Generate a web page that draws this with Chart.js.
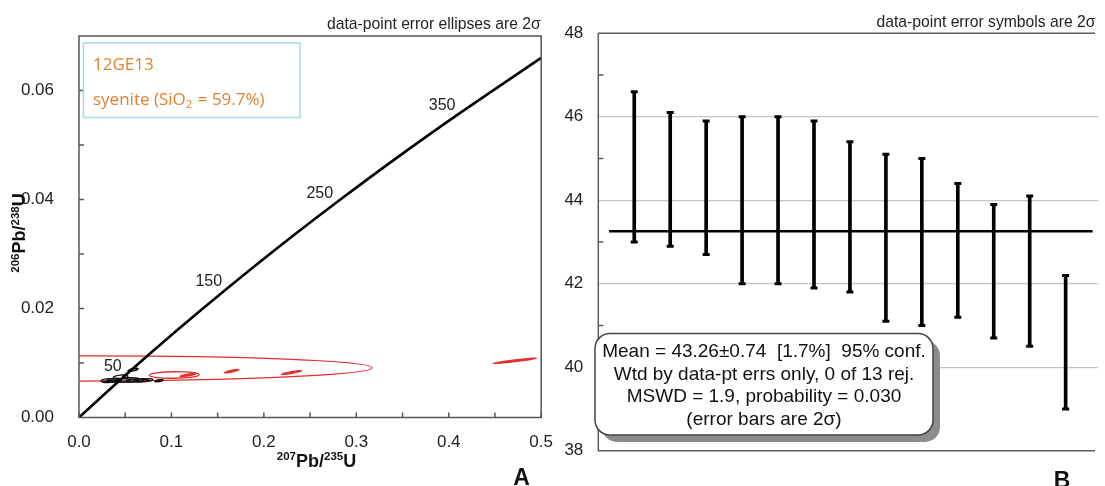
<!DOCTYPE html>
<html>
<head>
<meta charset="utf-8">
<script src="https://cdn.jsdelivr.net/npm/chart.js@4.4.1/dist/chart.umd.min.js"></script>
<style>
  html, body { margin: 0; padding: 0; background: #fff; overflow: hidden; }
  #wrapA { position: absolute; left: 0; top: 0; width: 560px; height: 486px; }
  #wrapB { position: absolute; left: 560px; top: 0; width: 545px; height: 486px; }
</style>
</head>
<body>
<div id="wrapA"><canvas id="chartA"></canvas></div>
<div id="wrapB"><canvas id="chartB"></canvas></div>
<script>
// ---- panel A: concordia diagram ----
const concAges = [0, 50, 100, 150, 200, 250, 300, 350, 400, 412];
const concX = [0, 0.0505, 0.1035, 0.1592, 0.2177, 0.2792, 0.3437, 0.4116, 0.4828, 0.5];
const concY = [0, 0.00779, 0.01563, 0.02354, 0.03151, 0.03954, 0.04764, 0.0558, 0.06402, 0.0660];
const ageLabels = [50, 150, 250, 350];

// error ellipses (centre, 2 sigma half widths, correlation)
const redCx = [0.0, 0.103, 0.118, 0.165, 0.230, 0.4715];
const redCy = [0.0090, 0.0078, 0.0078, 0.0085, 0.00825, 0.0104];
const redSx = [0.317, 0.027, 0.009, 0.008, 0.011, 0.0235];
const redSy = [0.00232, 0.0006, 0.0003, 0.0003, 0.00035, 0.0005];
const redRho = [0.05, 0.1, 0.9, 0.95, 0.95, 0.97];

const blkCx = [0.0585, 0.045, 0.030, 0.038, 0.046, 0.053, 0.060, 0.067, 0.074, 0.0865, 0.034];
const blkCy = [0.00875, 0.00745, 0.0068, 0.0069, 0.0068, 0.0069, 0.0068, 0.0068, 0.00685, 0.00675, 0.0066];
const blkSx = [0.0055, 0.008, 0.006, 0.008, 0.010, 0.012, 0.009, 0.008, 0.006, 0.0045, 0.008];
const blkSy = [0.0003, 0.00035, 0.0003, 0.0003, 0.0003, 0.0004, 0.0003, 0.0003, 0.00025, 0.00015, 0.0002];
const blkRho = [0.7, 0.3, 0.3, 0.4, 0.3, 0.3, 0.4, 0.3, 0.5, 0.9, 0.6];

const xTicksA = [0, 0.1, 0.2, 0.3, 0.4, 0.5];
const yTicksA = [0, 0.02, 0.04, 0.06];
const xMinorA = [0, 0.05, 0.1, 0.15, 0.2, 0.25, 0.3, 0.35, 0.4, 0.45, 0.5];
const yMinorA = [0.01, 0.02, 0.03, 0.04, 0.05, 0.06];

// ---- panel B: weighted mean ----
const spotNo = [1, 2, 3, 4, 5, 6, 7, 8, 9, 10, 11, 12, 13];
const barHigh = [46.6, 46.1, 45.9, 46.0, 46.0, 45.9, 45.4, 45.1, 45.0, 44.4, 43.9, 44.1, 42.2];
const barLow = [43.0, 42.9, 42.7, 42.0, 42.0, 41.9, 41.8, 41.1, 41.0, 41.2, 40.7, 40.5, 39.0];
const meanAge = 43.26;
const meanSpan = [0.3, 13.75];
const yTicksB = [38, 40, 42, 44, 46, 48];
const yMinorB = [39, 41, 43, 45, 47];
const statLines = [
  'Mean = 43.26\u00b10.74  [1.7%]  95% conf.',
  'Wtd by data-pt errs only, 0 of 13 rej.',
  'MSWD = 1.9, probability = 0.030',
  '(error bars are 2\u03c3)'
];

const SANS = 'Liberation Sans, Arial, sans-serif';

function drawEllipses(ctx, xs, ys, cx, cy, sx, sy, rho, color, lw) {
  ctx.strokeStyle = color;
  ctx.fillStyle = color;
  ctx.lineWidth = lw;
  cx.forEach((c, i) => {
    const px = xs.getPixelForValue(c), py = ys.getPixelForValue(cy[i]);
    const kx = Math.abs(xs.getPixelForValue(c + sx[i]) - px);
    const ky = Math.abs(ys.getPixelForValue(cy[i] + sy[i]) - py);
    const a = kx * kx, d = ky * ky, b = -rho[i] * kx * ky;
    const th = 0.5 * Math.atan2(2 * b, a - d);
    const m = (a + d) / 2, r = Math.sqrt(((a - d) / 2) ** 2 + b * b);
    const r0 = Math.sqrt(Math.max(m - r, 0));
    const r1 = Math.sqrt(m + r), r2 = Math.max(r0, 0.9);
    ctx.beginPath();
    ctx.ellipse(px, py, r1, r2, th, 0, 2 * Math.PI);
    if (r0 < 1.1) ctx.fill();
    ctx.stroke();
  });
}

// text with superscript parts, e.g. 206Pb/238U
function supText(ctx, parts, x, y, big, small) {
  let w = 0;
  parts.forEach(p => {
    ctx.font = 'bold ' + (p.sup ? small : big) + 'px ' + SANS;
    w += ctx.measureText(p.t).width;
  });
  let cx = x - w / 2;
  ctx.textAlign = 'left';
  ctx.textBaseline = 'alphabetic';
  parts.forEach(p => {
    ctx.font = 'bold ' + (p.sup ? small : big) + 'px ' + SANS;
    ctx.fillText(p.t, cx, p.sup ? y - 6.5 : y);
    cx += ctx.measureText(p.t).width;
  });
}

const panelA = {
  id: 'panelA',
  beforeDatasetsDraw(chart) {
    const { ctx, chartArea: a, scales: { x, y } } = chart;
    ctx.save();
    ctx.beginPath();
    ctx.rect(a.left, a.top, a.right - a.left, a.bottom - a.top);
    ctx.clip();
    drawEllipses(ctx, x, y, redCx, redCy, redSx, redSy, redRho, '#e0302c', 1.3);
    drawEllipses(ctx, x, y, blkCx, blkCy, blkSx, blkSy, blkRho, '#111', 1.4);
    ctx.restore();
  },
  afterDraw(chart) {
    const { ctx, chartArea: a, scales: { x, y } } = chart;
    ctx.save();
    ctx.strokeStyle = '#555';
    ctx.lineWidth = 1.5;
    ctx.strokeRect(a.left, a.top, a.right - a.left, a.bottom - a.top);
    ctx.beginPath();
    xMinorA.forEach(v => {
      const px = x.getPixelForValue(v);
      ctx.moveTo(px, a.bottom); ctx.lineTo(px, a.bottom - 5);
    });
    yMinorA.forEach(v => {
      const py = y.getPixelForValue(v);
      ctx.moveTo(a.left, py); ctx.lineTo(a.left + 5, py);
    });
    ctx.stroke();

    // age labels on the concordia
    ctx.fillStyle = '#222';
    ctx.font = '16px ' + SANS;
    ctx.textAlign = 'right';
    ctx.textBaseline = 'middle';
    ageLabels.forEach(t => {
      const i = concAges.indexOf(t);
      ctx.fillText(String(t), x.getPixelForValue(concX[i]) - 4, y.getPixelForValue(concY[i]) - 8);
    });

    // sample box
    ctx.strokeStyle = '#a9d8ea';
    ctx.lineWidth = 1.5;
    ctx.strokeRect(83.5, 43, 216.5, 74.5);
    ctx.fillStyle = '#e2812f';
    ctx.textAlign = 'left';
    ctx.textBaseline = 'middle';
    ctx.font = '17px Open Sans, sans-serif';
    ctx.fillText('12GE13', 93, 65);
    const s1 = 'syenite (SiO';
    ctx.fillText(s1, 93, 100);
    let px = 93 + ctx.measureText(s1).width;
    ctx.font = '11.5px Open Sans, sans-serif';
    ctx.fillText('2', px, 105);
    px += ctx.measureText('2').width + 1;
    ctx.font = '17px Open Sans, sans-serif';
    ctx.fillText(' = 59.7%)', px, 100);

    // note
    ctx.fillStyle = '#222';
    ctx.font = '15.7px ' + SANS;
    ctx.textAlign = 'left';
    ctx.fillText('data-point error ellipses are 2\u03c3', 327, 25);

    // axis titles
    ctx.fillStyle = '#111';
    supText(ctx, [{ t: '207', sup: true }, { t: 'Pb/' }, { t: '235', sup: true }, { t: 'U' }], 316.5, 466.5, 18, 11.5);
    ctx.save();
    ctx.translate(25, 233);
    ctx.rotate(-Math.PI / 2);
    supText(ctx, [{ t: '206', sup: true }, { t: 'Pb/' }, { t: '238', sup: true }, { t: 'U' }], 0, 0, 18, 11.5);
    ctx.restore();

    ctx.font = 'bold 23px ' + SANS;
    ctx.textAlign = 'center';
    ctx.textBaseline = 'alphabetic';
    ctx.fillText('A', 521.5, 485);
    ctx.restore();
  }
};

new Chart(document.getElementById('chartA'), {
  type: 'scatter',
  data: {
    datasets: [{
      data: concX.map((v, i) => ({ x: v, y: concY[i] })),
      showLine: true,
      cubicInterpolationMode: 'monotone',
      borderColor: '#000',
      borderWidth: 2.6,
      pointRadius: 0,
    }]
  },
  options: {
    responsive: true, maintainAspectRatio: false, animation: false,
    layout: { padding: { left: 0, top: 36, right: 7, bottom: 0 } },
    plugins: { legend: { display: false }, tooltip: { enabled: false } },
    scales: {
      x: {
        type: 'linear', min: 0, max: 0.5,
        afterBuildTicks: s => { s.ticks = xTicksA.map(v => ({ value: v })); },
        afterFit: s => { s.height = 68.5; },
        ticks: { callback: v => v.toFixed(1), font: { family: SANS, size: 17 }, color: '#222', padding: 7, maxRotation: 0, autoSkip: false },
        grid: { display: false }, border: { display: false }
      },
      y: {
        min: 0, max: 0.07,
        afterBuildTicks: s => { s.ticks = yTicksA.map(v => ({ value: v })); },
        afterFit: s => { s.width = 79; },
        ticks: { callback: v => v.toFixed(2), font: { family: SANS, size: 17 }, color: '#222', padding: 17, autoSkip: false },
        grid: { display: false }, border: { display: false }
      }
    }
  },
  plugins: [panelA]
});

const panelB = {
  id: 'panelB',
  afterDraw(chart) {
    const { ctx, chartArea: a, scales: { y } } = chart;
    ctx.save();
    ctx.strokeStyle = '#5a5a5a';
    ctx.lineWidth = 1.5;
    ctx.beginPath();
    ctx.moveTo(a.right - 3, a.top); ctx.lineTo(a.left, a.top);
    ctx.lineTo(a.left, a.bottom); ctx.lineTo(a.right - 3, a.bottom);
    yMinorB.forEach(v => {
      const py = y.getPixelForValue(v);
      ctx.moveTo(a.left, py); ctx.lineTo(a.left + 5, py);
    });
    ctx.stroke();

    ctx.fillStyle = '#222';
    ctx.font = '15.7px ' + SANS;
    ctx.textAlign = 'left';
    ctx.textBaseline = 'middle';
    ctx.fillText('data-point error symbols are 2\u03c3', 316.5, 23);

    // statistics box with shadow
    const bx = 35, by = 333.5, bw = 338, bh = 101.5, r = 15;
    ctx.fillStyle = '#8c8c8c';
    ctx.beginPath(); ctx.roundRect(bx + 7, by + 7, bw, bh, r); ctx.fill();
    ctx.fillStyle = '#fff';
    ctx.strokeStyle = '#444';
    ctx.lineWidth = 1.5;
    ctx.beginPath(); ctx.roundRect(bx, by, bw, bh, r); ctx.fill(); ctx.stroke();
    ctx.fillStyle = '#111';
    ctx.font = '19px ' + SANS;
    ctx.textAlign = 'center';
    statLines.forEach((t, i) => ctx.fillText(t, bx + bw / 2, 352 + i * 22.6));

    ctx.font = 'bold 23px ' + SANS;
    ctx.textBaseline = 'alphabetic';
    ctx.fillText('B', 502, 488);
    ctx.restore();
  }
};

new Chart(document.getElementById('chartB'), {
  type: 'bar',
  data: {
    datasets: [
      {
        type: 'bar',
        data: spotNo.map((n, i) => ({ x: n, y: [barLow[i], barHigh[i]] })),
        backgroundColor: '#000',
        barThickness: 3,
        grouped: false,
      },
      {
        type: 'scatter',
        data: spotNo.map((n, i) => ({ x: n, y: barHigh[i] })).concat(spotNo.map((n, i) => ({ x: n, y: barLow[i] }))),
        pointStyle: 'line',
        pointRadius: 3.5,
        borderWidth: 3,
        borderColor: '#000',
      },
      {
        type: 'line',
        data: meanSpan.map(v => ({ x: v, y: meanAge })),
        borderColor: '#000',
        borderWidth: 2.5,
        pointRadius: 0,
      }
    ]
  },
  options: {
    responsive: true, maintainAspectRatio: false, animation: false,
    layout: { padding: { left: 0, top: 33.3, right: 0, bottom: 35.3 } },
    plugins: { legend: { display: false }, tooltip: { enabled: false } },
    scales: {
      x: { type: 'linear', min: 0, max: 13.9, display: false, offset: false },
      y: {
        min: 38, max: 48,
        afterBuildTicks: s => { s.ticks = yTicksB.map(v => ({ value: v })); },
        afterFit: s => { s.width = 38.3; },
        ticks: { font: { family: SANS, size: 17 }, color: '#222', padding: 15, autoSkip: false },
        grid: {
          color: c => (c.tick && (c.tick.value === 38 || c.tick.value === 48)) ? 'rgba(0,0,0,0)' : '#c4c4c4',
          lineWidth: 1.2, drawTicks: false
        },
        border: { display: false }
      }
    }
  },
  plugins: [panelB]
});
</script>
</body>
</html>
